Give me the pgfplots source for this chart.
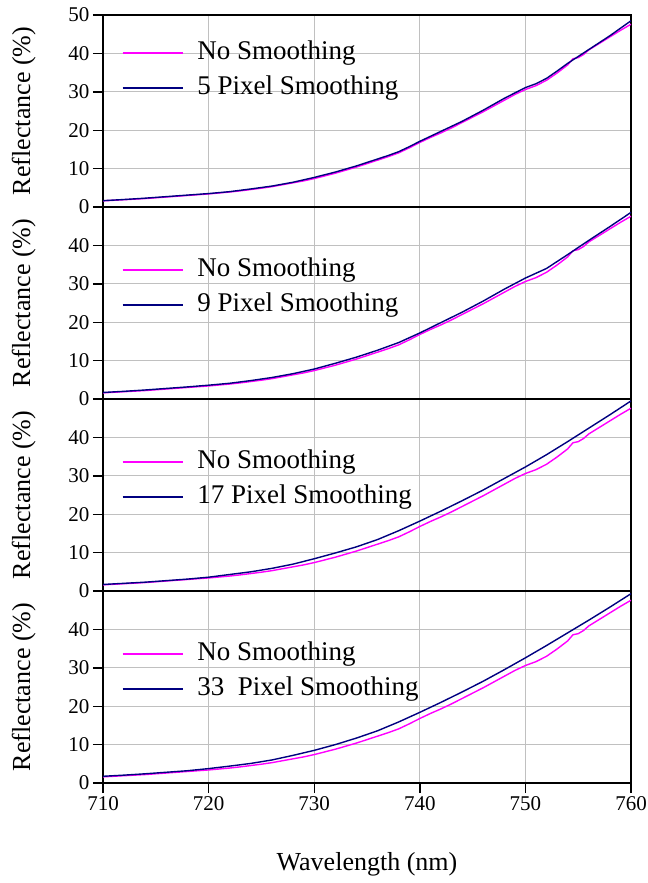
\documentclass[border=0pt]{standalone}
\usepackage{fontspec}
\setmainfont{Liberation Serif}
\usepackage{pgfplots}
\usepackage{pgfplotstable}
\pgfplotsset{compat=1.18}
\usepgfplotslibrary{groupplots}

\definecolor{rawpink}{HTML}{FF00FF}
\definecolor{smoothnavy}{HTML}{000080}
\definecolor{gridgray}{HTML}{C0C0C0}

% unsmoothed reflectance spectrum
\pgfplotstableread{
wl    R
710   1.60
711   1.75
712   1.90
713   2.05
714   2.20
715   2.40
716   2.60
717   2.80
718   3.00
719   3.20
720   3.40
721   3.65
722   3.90
723   4.20
724   4.55
725   4.90
726   5.30
727   5.80
728   6.30
729   6.80
730   7.40
731   8.10
732   8.80
733   9.60
734   10.40
735   11.30
736   12.20
737   13.10
738   14.10
739   15.40
740   16.80
741   18.10
742   19.30
743   20.60
744   22.00
745   23.40
746   24.80
747   26.30
748   27.80
749   29.30
750   30.60
751   31.60
752   33.00
753   34.90
754   37.00
754.5 38.60
755   38.90
755.5 39.70
756   40.90
757   42.60
758   44.30
759   46.00
760   47.60
}\rawdata

\pgfplotstableread{
wl   R
710  1.65
712  1.95
714  2.30
716  2.70
718  3.10
720  3.50
722  4.00
724  4.70
726  5.45
728  6.45
730  7.70
732  9.10
734  10.70
736  12.50
737  13.40
738  14.40
739  15.70
740  17.10
742  19.70
744  22.30
746  25.20
748  28.30
750  31.10
751  32.10
752  33.50
753  35.40
754  37.40
755  39.20
756  41.00
757  42.80
758  44.60
760  48.50
}\smoothfive

\pgfplotstableread{
wl   R
710  1.70
712  2.00
714  2.35
716  2.75
718  3.15
720  3.60
722  4.10
724  4.80
726  5.60
728  6.60
730  7.80
732  9.30
734  10.90
736  12.70
738  14.70
740  17.20
742  19.90
744  22.60
746  25.50
748  28.60
750  31.50
752  34.00
754  37.60
756  41.30
758  44.90
760  48.60
}\smoothnine

\pgfplotstableread{
wl   R
710  1.70
712  2.00
714  2.30
716  2.70
718  3.10
720  3.60
722  4.30
724  5.00
726  5.90
728  7.00
730  8.40
732  9.90
734  11.50
736  13.40
738  15.70
740  18.20
742  20.80
744  23.50
746  26.30
748  29.30
750  32.30
752  35.50
754  38.90
756  42.40
758  45.90
760  49.50
}\smoothseventeen

\pgfplotstableread{
wl   R
710  1.75
712  2.05
714  2.40
716  2.80
718  3.20
720  3.75
722  4.40
724  5.10
726  6.00
728  7.20
730  8.50
732  10.00
734  11.70
736  13.60
738  15.90
740  18.40
742  21.00
744  23.70
746  26.50
748  29.50
750  32.60
752  35.80
754  39.10
756  42.40
758  45.80
760  49.30
}\smooththirtythree

\pgfplotsset{
  panel/.style={
    scale only axis, width=528pt, height=192pt,
    xmin=710, xmax=760, ymin=0, ymax=50,
    xtick={710,720,...,760},
    grid=major,
    grid style={gridgray, line width=1pt},
    axis line style={black, line width=1.4pt},
    tick style={black, line width=1.4pt},
    major tick length=10pt,
    tick align=outside, xtick pos=bottom, ytick pos=left,
    ticklabel style={font=\fontsize{21}{25}\selectfont},
    /pgf/number format/assume math mode=true,
    ylabel={Reflectance (\%)},
    ylabel style={at={(axis description cs:-0.15,0.5)}, anchor=center,
      font=\fontsize{26}{30}\selectfont},
    legend cell align=left,
    legend image code/.code={\draw[#1] (0pt,0pt) -- (60pt,0pt);},
    legend style={draw=none, fill=none, inner sep=0pt, outer sep=0pt,
      anchor=west, row sep=10pt, column sep=14pt,
      font=\fontsize{27}{31}\selectfont,
      nodes={inner sep=0pt, text height=19pt, text depth=6pt}},
  },
  inner/.style={xticklabels={}, xtick style={draw=none}},
  raw/.style={rawpink, line width=1.4pt},
  smooth/.style={smoothnavy, line width=1.4pt},
}

\begin{document}
\begin{tikzpicture}
\begin{groupplot}[group style={group name=G, group size=1 by 4, vertical sep=0pt}, panel]
\nextgroupplot[inner, ytick={0,10,...,50},
  legend style={at={(axis description cs:0.036,0.71)}}]
\addplot[raw] table[x=wl, y=R] {\rawdata};
\addlegendentry{No Smoothing}
\addplot[smooth] table[x=wl, y=R] {\smoothfive};
\addlegendentry{5 Pixel Smoothing}

\nextgroupplot[inner, ytick={0,10,...,40},
  legend style={at={(axis description cs:0.036,0.58)}}]
\addplot[raw] table[x=wl, y=R] {\rawdata};
\addlegendentry{No Smoothing}
\addplot[smooth] table[x=wl, y=R] {\smoothnine};
\addlegendentry{9 Pixel Smoothing}

\nextgroupplot[inner, ytick={0,10,...,40},
  legend style={at={(axis description cs:0.036,0.58)}}]
\addplot[raw] table[x=wl, y=R] {\rawdata};
\addlegendentry{No Smoothing}
\addplot[smooth] table[x=wl, y=R] {\smoothseventeen};
\addlegendentry{17 Pixel Smoothing}

\nextgroupplot[ytick={0,10,...,40},
  xlabel={Wavelength (nm)},
  xlabel style={at={(axis description cs:0.5,-0.425)}, anchor=center,
    font=\fontsize{26}{30}\selectfont},
  legend style={at={(axis description cs:0.036,0.58)}}]
\addplot[raw] table[x=wl, y=R] {\rawdata};
\addlegendentry{No Smoothing}
\addplot[smooth] table[x=wl, y=R] {\smooththirtythree};
\addlegendentry{33\ \ Pixel Smoothing}
\end{groupplot}
\pgfresetboundingbox
\path ([xshift=-103pt,yshift=15pt]G c1r1.north west) rectangle ([xshift=16pt,yshift=-100pt]G c1r4.south east);
\end{tikzpicture}
\end{document}
